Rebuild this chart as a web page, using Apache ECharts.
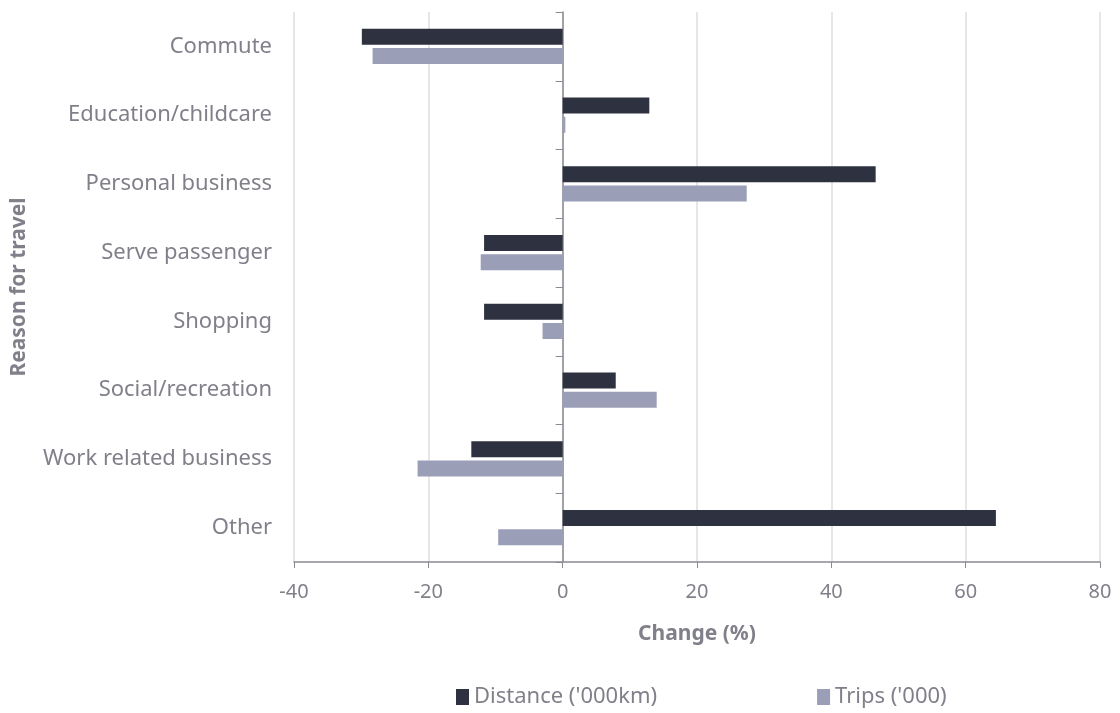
<!DOCTYPE html>
<html>
<head>
<meta charset="utf-8">
<script src="https://cdn.jsdelivr.net/npm/echarts@6/dist/echarts.min.js"></script>
<style>
  html, body { margin: 0; padding: 0; background: #fff; }
  #chart { width: 1120px; height: 713px; }
</style>
</head>
<body>
<div id="chart"></div>
<script>
// 出行目的分类
const categories = ['Commute', 'Education/childcare', 'Personal business', 'Serve passenger',
    'Shopping', 'Social/recreation', 'Work related business', 'Other'];
// 变化率 (%)
const distanceChange = [-29.9, 12.9, 46.6, -11.7, -11.7, 7.9, -13.6, 64.5];
const tripsChange = [-28.3, 0.4, 27.4, -12.2, -3.0, 14.0, -21.6, -9.6];
const xTicks = [-40, -20, 0, 20, 40, 60, 80];

const textColor = '#80808a';
const fontFamily = 'Noto Sans';

const chart = echarts.init(document.getElementById('chart'));

const option = {
    backgroundColor: '#fff',
    animation: false,
    grid: {
        left: 294,
        right: 20,
        top: 12,
        bottom: 151,
        outerBoundsMode: 'none'
    },
    legend: {
        bottom: 0,
        left: 451,
        itemGap: 160,
        itemWidth: 13,
        itemHeight: 16,
        icon: 'rect',
        textStyle: { color: textColor, fontSize: 22, fontFamily: fontFamily },
        data: ["Distance ('000km)", "Trips ('000)"]
    },
    xAxis: {
        type: 'value',
        min: xTicks[0],
        max: xTicks[xTicks.length - 1],
        interval: 20,
        name: 'Change (%)',
        nameLocation: 'middle',
        nameGap: 62,
        nameTextStyle: { color: textColor, fontSize: 21, fontWeight: 'bold', fontFamily: fontFamily },
        axisLine: { show: true, lineStyle: { color: '#8a8a92', width: 1.5 } },
        axisTick: { show: true, length: 6, lineStyle: { color: '#8a8a92' } },
        axisLabel: { color: textColor, fontSize: 20, margin: 20, fontFamily: fontFamily },
        splitLine: { show: true, lineStyle: { color: '#dedede', width: 1.5 } }
    },
    yAxis: [
        {
            type: 'category',
            data: categories,
            inverse: true,
            name: 'Reason for travel',
            nameLocation: 'middle',
            nameGap: 264,
            nameTextStyle: { color: textColor, fontSize: 21, fontWeight: 'bold', fontFamily: fontFamily },
            axisLine: { show: false, onZero: false },
            axisTick: { show: false },
            axisLabel: { color: textColor, fontSize: 22, margin: 22, fontFamily: fontFamily }
        },
        {
            type: 'category',
            data: categories,
            inverse: true,
            axisLine: { show: true, onZero: true, lineStyle: { color: '#8a8a92', width: 1.5 } },
            axisTick: { show: true, inside: true, length: 7, lineStyle: { color: '#8a8a92' } },
            axisLabel: { show: false }
        }
    ],
    series: [
        {
            name: "Distance ('000km)",
            type: 'bar',
            data: distanceChange,
            barWidth: 16,
            barGap: '20%',
            itemStyle: { color: '#2e3140' }
        },
        {
            name: "Trips ('000)",
            type: 'bar',
            data: tripsChange,
            barWidth: 16,
            barGap: '20%',
            itemStyle: { color: '#9a9fb7' }
        }
    ]
};

chart.setOption(option);
</script>
</body>
</html>
